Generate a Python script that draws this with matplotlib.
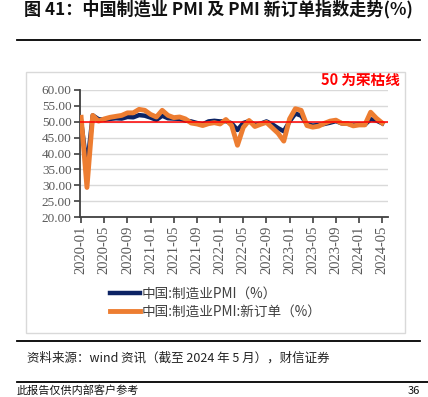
import matplotlib.pyplot as plt
from matplotlib.lines import Line2D
from matplotlib.patches import Rectangle

plt.rcParams['font.family'] = ['Noto Sans CJK SC', 'DejaVu Sans']

# monthly data, 2020-01 .. 2024-05
months = ['%d-%02d' % (y, m) for y in range(2020, 2025) for m in range(1, 13)][:53]
pmi = [50.0, 35.7, 52.0, 50.8, 50.6, 50.9, 51.1, 51.0, 51.5, 51.4, 52.1, 51.9,
       51.3, 50.6, 51.9, 51.1, 51.0, 50.9, 50.4, 50.1, 49.6, 49.2, 50.1, 50.3,
       50.1, 50.2, 49.5, 47.4, 49.6, 50.2, 49.0, 49.4, 50.1, 49.2, 48.0, 47.0,
       50.1, 52.6, 51.9, 49.2, 48.8, 49.0, 49.3, 49.7, 50.2, 49.5, 49.4, 49.0,
       49.2, 49.1, 50.8, 50.4, 49.5]
new_orders = [51.4, 29.3, 52.0, 50.2, 50.9, 51.4, 51.7, 52.0, 52.8, 52.8, 53.9, 53.6,
              52.3, 51.5, 53.6, 52.0, 51.3, 51.5, 50.9, 49.6, 49.3, 48.8, 49.4, 49.7,
              49.3, 50.7, 48.8, 42.6, 48.2, 50.4, 48.5, 49.2, 49.8, 48.1, 46.4, 43.9,
              50.9, 54.1, 53.6, 48.8, 48.3, 48.6, 49.5, 50.2, 50.5, 49.5, 49.4, 48.7,
              49.0, 49.0, 53.0, 51.1, 49.6]
yticks = [20, 25, 30, 35, 40, 45, 50, 55, 60]
line_50 = 49.8

W, H = 428, 397
fig = plt.figure(figsize=(W / 100, H / 100), dpi=100)

def fx(px):
    return px / W

def fy(py):
    return 1 - py / H

# title + rules
fig.text(fx(218), fy(9), '图 41：中国制造业 PMI 及 PMI 新订单指数走势(%)', ha='center', va='center',
         fontsize=12.3, fontweight='bold', color='#111111')
for y, x0, x1 in [(40, 17, 420), (341, 17, 420), (382, 17, 428)]:
    fig.add_artist(Line2D([fx(x0), fx(x1)], [fy(y), fy(y)], color='black', lw=1.3))

# chart frame
fig.add_artist(Rectangle((fx(26), fy(333)), fx(405) - fx(26), fy(72) - fy(333),
                         fill=False, edgecolor='#D9D9D9', lw=1))

ax = fig.add_axes([fx(80), fy(217), fx(388) - fx(80), fy(90) - fy(217)])
x = list(range(len(months)))
ax.plot(x, pmi, color='#0C2364', lw=3.2, label='中国:制造业PMI（%）', zorder=3)
ax.plot(x, new_orders, color='#ED7D31', lw=3.5, label='中国:制造业PMI:新订单（%）', zorder=4)
ax.axhline(line_50, color='#FF0000', lw=1.1, zorder=5)

ax.set_ylim(20, 60)
ax.set_xlim(-0.2, 53)
ax.set_yticks(yticks)
ax.set_yticklabels(['%.2f' % v for v in yticks], family='Liberation Serif', fontsize=9.5, color='#595959')
ax.set_xticks(x[::4])
ax.set_xticklabels(months[::4], rotation=90, family='Liberation Serif', fontsize=10.5, color='#595959')
ax.grid(axis='y', color='#D9D9D9', lw=1)
ax.set_axisbelow(True)
for s in ['top', 'right']:
    ax.spines[s].set_visible(False)
for s in ['left', 'bottom']:
    ax.spines[s].set_color('#404040')
    ax.spines[s].set_linewidth(1.3)
ax.tick_params(axis='both', direction='out', length=4, width=1.2, color='#404040', pad=2)

ax.text(1.04, 1.08, '50 为荣枯线', transform=ax.transAxes, ha='right', va='center',
        color='#FF0000', fontsize=10.5, fontweight='bold')

leg = fig.legend(loc='center', bbox_to_anchor=(fx(216), fy(303)), frameon=False, fontsize=9.8,
                 handlelength=2.2, handletextpad=0.1, labelspacing=0.3)
for t in leg.get_texts():
    t.set_color('#404040')

fig.text(fx(27), fy(358), '资料来源：wind 资讯（截至 2024 年 5 月），财信证券', ha='left', va='center',
         fontsize=9, style='italic', color='#222222')
fig.text(fx(17), fy(396), '此报告仅供内部客户参考', ha='left', va='bottom', fontsize=8, color='#111111')
fig.text(fx(420), fy(396), '36', ha='right', va='bottom', fontsize=8, color='#111111')

fig.savefig('out.png', dpi=100)
